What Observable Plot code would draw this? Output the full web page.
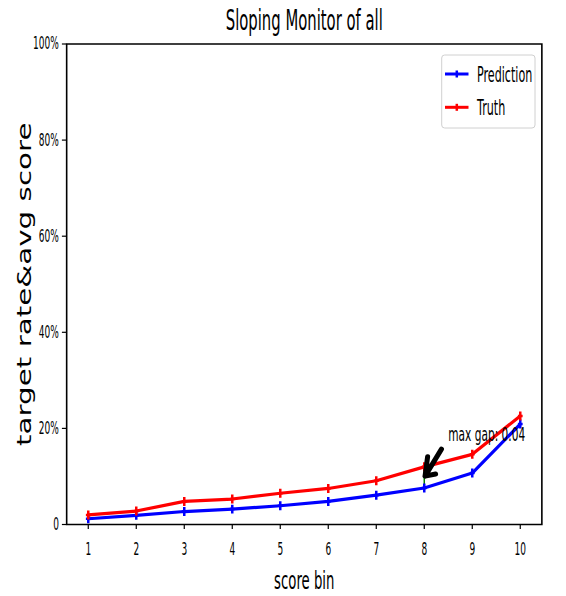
<!DOCTYPE html>
<html><head><meta charset="utf-8">
<script src="https://cdn.jsdelivr.net/npm/d3@7"></script>
<script src="https://cdn.jsdelivr.net/npm/@observablehq/plot@0.6"></script>
<style>
body{margin:0;background:#fff}
#chart svg *{vector-effect:non-scaling-stroke}
</style></head><body><div id="chart"></div>
<script>
const bins = [1, 2, 3, 4, 5, 6, 7, 8, 9, 10];
const prediction = [0.012, 0.019, 0.027, 0.032, 0.039, 0.048, 0.061, 0.076, 0.107, 0.209];
const truth = [0.020, 0.028, 0.048, 0.053, 0.065, 0.075, 0.091, 0.120, 0.146, 0.226];
const yTicks = [0, 0.2, 0.4, 0.6, 0.8, 1];
const title = "Sloping Monitor of all";
const xLabel = "score bin";
const yLabel = "target rate&avg score";
const seriesNames = ["Prediction", "Truth"];
const seriesColors = ["#0000ff", "#ff0000"];
const annotationText = [8.5, 0.18]; // where the "max gap" note sits (data coords)

const S = 0.53, PW = 566, PH = 596;
const W = PW / S;
const ux = px => px / S;

const rows = bins.flatMap((b, i) => [
  {bin: b, value: prediction[i], series: "Prediction"},
  {bin: b, value: truth[i], series: "Truth"}
]);
const gaps = bins.map((b, i) => truth[i] - prediction[i]);
const gi = d3.maxIndex(gaps);
const gapRow = {bin: bins[gi], lo: prediction[gi], hi: truth[gi], mid: (prediction[gi] + truth[gi]) / 2,
  gap: gaps[gi], tx: annotationText[0], ty: annotationText[1]};

const plot = Plot.plot({
  width: W, height: PH,
  marginLeft: ux(66.4), marginRight: ux(24.4), marginTop: 43.5, marginBottom: 72,
  style: {fontFamily: "DejaVu Sans", fontSize: "17px", background: "#fff", color: "#000"},
  x: {domain: [0.55, 10.45]},
  y: {domain: [0, 1]},
  color: {domain: seriesNames, range: seriesColors},
  marks: [
    Plot.axisX({ticks: bins, tickFormat: d => String(d), tickSize: 5, tickPadding: 13, label: null, fontSize: 17, strokeWidth: 1.2}),
    Plot.axisY({ticks: yTicks, tickFormat: d => d === 0 ? "0" : Math.round(d * 100) + "%", tickSize: ux(4.5), tickPadding: ux(3.3), label: null, fontSize: 17, strokeWidth: 1.2}),
    Plot.ruleX([gapRow], {x: "bin", y1: "lo", y2: "hi", stroke: "#008000", strokeWidth: 1.5}),
    Plot.line(rows, {x: "bin", y: "value", z: "series", stroke: "series", strokeWidth: 3.2}),
    Plot.dot(rows, {x: "bin", y: "value", stroke: "series", symbol: "plus", r: 3, strokeWidth: 2.5}),
    Plot.arrow([gapRow], {x1: "tx", y1: "ty", x2: "bin", y2: "mid", stroke: "#000", strokeWidth: 5, headLength: 8, headAngle: 70, insetStart: 17, insetEnd: 2}),
    Plot.text([gapRow], {x: "tx", y: "ty", text: d => `max gap: ${d.gap.toFixed(2)}`, textAnchor: "start", lineAnchor: "bottom", dy: 3, fontSize: 20, fill: "#000"}),
    Plot.frame({stroke: "#000", strokeWidth: 1.6}),
    Plot.text([title], {frameAnchor: "top", lineAnchor: "bottom", dy: -14, fontSize: 28, text: d => d, fill: "#000"}),
    Plot.text([xLabel], {frameAnchor: "bottom", lineAnchor: "bottom", dy: 64, fontSize: 25, text: d => d, fill: "#000"}),
    Plot.text([yLabel], {frameAnchor: "left", textAnchor: "middle", rotate: -90, lineAnchor: "middle", dx: ux(24.5 - 66.4), fontSize: 29.4, text: d => d, fill: "#000"})
  ]
});

plot.setAttribute("width", PW);
plot.setAttribute("height", PH);
plot.setAttribute("preserveAspectRatio", "none");

// widen the rotated y label's glyphs a little
d3.select(plot).selectAll("text").each(function() {
  if (this.textContent === yLabel) {
    const t = this.getAttribute("transform") || "";
    this.setAttribute("transform", t + " scale(1,1.23)");
  }
});

// legend (matplotlib style box, top right)
const lg = d3.select(plot).append("g").attr("font-family", "DejaVu Sans").attr("text-anchor", "start");
lg.append("rect").attr("x", ux(441.7)).attr("y", 55).attr("width", ux(93.3)).attr("height", 73)
  .attr("rx", ux(3)).attr("ry", 3).attr("fill", "#fff").attr("fill-opacity", 0.8)
  .attr("stroke", "#d0d0d0").attr("stroke-width", 1);
seriesNames.forEach((name, i) => {
  const yy = 74 + i * 33.3;
  lg.append("line").attr("x1", ux(445)).attr("x2", ux(468.5)).attr("y1", yy).attr("y2", yy)
    .attr("stroke", seriesColors[i]).attr("stroke-width", 3);
  lg.append("line").attr("x1", ux(456.8)).attr("x2", ux(456.8)).attr("y1", yy - 3.5).attr("y2", yy + 3.5)
    .attr("stroke", seriesColors[i]).attr("stroke-width", 2.5);
  lg.append("text").attr("x", ux(477)).attr("y", yy + 7.7).attr("font-size", 21).attr("fill", "#000")
    .attr("text-anchor", "start").text(name);
});

document.getElementById("chart").append(plot);
</script></body></html>
